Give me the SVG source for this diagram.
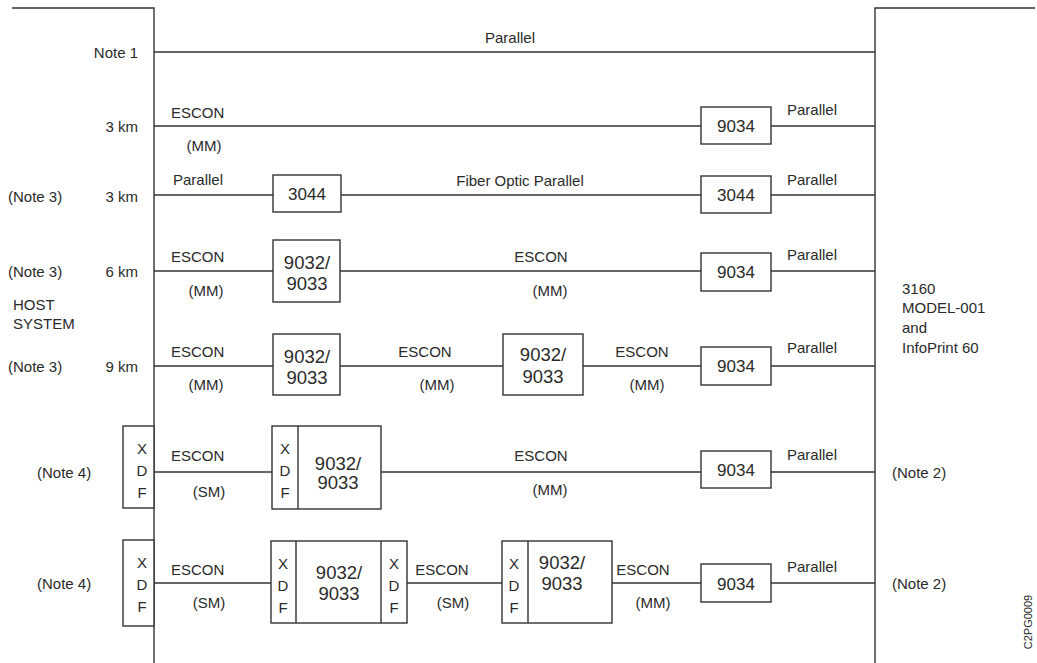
<svg xmlns="http://www.w3.org/2000/svg" width="1037" height="663" viewBox="0 0 1037 663">
<style>
text{font-family:"Liberation Sans",Arial,sans-serif;fill:#2a2a2a;font-size:15px}
.l{text-anchor:start}.m{text-anchor:middle}.e{text-anchor:end}
.b{font-size:18.5px}.s{font-size:17px}
line,rect,polyline{stroke:#333;stroke-width:1.4;fill:none}
rect{fill:#fff}
</style>
<rect width="1037" height="663" style="fill:#fff;stroke:none"/>
<g id="host">
<polyline points="12,8 154,8 154,663"/>
<text class="e" x="138" y="58">Note 1</text>
<text class="e" x="138" y="132">3 km</text>
<text class="l" x="8" y="202">(Note 3)</text>
<text class="e" x="138" y="202">3 km</text>
<text class="l" x="8" y="277">(Note 3)</text>
<text class="e" x="138" y="277">6 km</text>
<text class="l" x="13" y="310">HOST</text>
<text class="l" x="13" y="329">SYSTEM</text>
<text class="l" x="8" y="372">(Note 3)</text>
<text class="e" x="138" y="372">9 km</text>
<text class="l" x="37" y="478">(Note 4)</text>
<text class="l" x="37" y="589">(Note 4)</text>
</g>
<g id="printer">
<polyline points="1035,8 875,8 875,663"/>
<text class="l" x="902" y="294">3160</text>
<text class="l" x="902" y="313">MODEL-001</text>
<text class="l" x="902" y="333">and</text>
<text class="l" x="902" y="353">InfoPrint 60</text>
<text class="l" x="892" y="478">(Note 2)</text>
<text class="l" x="892" y="589">(Note 2)</text>
</g>
<g id="connectors">
<line x1="154" y1="52" x2="875" y2="52"/>
<line x1="154" y1="126" x2="701" y2="126"/><line x1="771" y1="126" x2="875" y2="126"/>
<line x1="154" y1="195" x2="273" y2="195"/><line x1="341" y1="195" x2="701" y2="195"/><line x1="771" y1="195" x2="875" y2="195"/>
<line x1="154" y1="271" x2="273" y2="271"/><line x1="340" y1="271" x2="701" y2="271"/><line x1="771" y1="271" x2="875" y2="271"/>
<line x1="154" y1="366" x2="273" y2="366"/><line x1="340" y1="366" x2="503" y2="366"/><line x1="583" y1="366" x2="701" y2="366"/><line x1="771" y1="366" x2="875" y2="366"/>
<line x1="154" y1="472" x2="272" y2="472"/><line x1="381" y1="472" x2="701" y2="472"/><line x1="771" y1="472" x2="875" y2="472"/>
<line x1="154" y1="583" x2="271" y2="583"/><line x1="407" y1="583" x2="502" y2="583"/><line x1="612" y1="583" x2="701" y2="583"/><line x1="771" y1="583" x2="875" y2="583"/>
</g>
<g id="labels">
<text class="m" x="510" y="43">Parallel</text>
<text class="l" x="171" y="118">ESCON</text>
<text class="m" x="204" y="151">(MM)</text>
<text class="l" x="787" y="115">Parallel</text>
<text class="l" x="173" y="185">Parallel</text>
<text class="m" x="520" y="186">Fiber Optic Parallel</text>
<text class="l" x="787" y="185">Parallel</text>
<text class="l" x="171" y="262">ESCON</text>
<text class="m" x="206" y="296">(MM)</text>
<text class="m" x="541" y="262">ESCON</text>
<text class="m" x="550" y="296">(MM)</text>
<text class="l" x="787" y="260">Parallel</text>
<text class="l" x="171" y="357">ESCON</text>
<text class="m" x="206" y="390">(MM)</text>
<text class="m" x="425" y="357">ESCON</text>
<text class="m" x="437" y="390">(MM)</text>
<text class="m" x="642" y="357">ESCON</text>
<text class="m" x="647" y="390">(MM)</text>
<text class="l" x="787" y="353">Parallel</text>
<text class="l" x="171" y="461">ESCON</text>
<text class="m" x="209" y="497">(SM)</text>
<text class="m" x="541" y="461">ESCON</text>
<text class="m" x="550" y="495">(MM)</text>
<text class="l" x="787" y="460">Parallel</text>
<text class="l" x="171" y="575">ESCON</text>
<text class="m" x="209" y="608">(SM)</text>
<text class="m" x="442" y="575">ESCON</text>
<text class="m" x="453" y="608">(SM)</text>
<text class="m" x="643" y="575">ESCON</text>
<text class="m" x="653" y="608">(MM)</text>
<text class="l" x="787" y="572">Parallel</text>
<text transform="translate(1032,622) rotate(-90)" class="m" style="font-size:11px">C2PG0009</text>
</g>
<g id="n9034-r2"><rect x="701" y="107" width="70" height="37"/><text class="m s" x="736" y="132">9034</text></g>
<g id="n3044-l"><rect x="273" y="175" width="68" height="37"/><text class="m s" x="307" y="200">3044</text></g>
<g id="n3044-r"><rect x="701" y="176" width="70" height="37"/><text class="m s" x="736" y="201">3044</text></g>
<g id="n9032-r4"><rect x="273" y="240" width="67" height="62"/><text class="m b" x="307" y="269">9032/</text><text class="m b" x="307" y="290">9033</text></g>
<g id="n9034-r4"><rect x="701" y="253" width="70" height="38"/><text class="m s" x="736" y="278">9034</text></g>
<g id="n9032a-r5"><rect x="273" y="334" width="67" height="61"/><text class="m b" x="307" y="363">9032/</text><text class="m b" x="307" y="384">9033</text></g>
<g id="n9032b-r5"><rect x="503" y="334" width="80" height="61"/><text class="m b" x="543" y="361">9032/</text><text class="m b" x="543" y="383">9033</text></g>
<g id="n9034-r5"><rect x="701" y="347" width="70" height="38"/><text class="m s" x="736" y="372">9034</text></g>
<g id="xdf-host-r6"><rect x="123" y="426" width="31" height="82"/><text class="m" x="142" y="454">X</text><text class="m" x="142" y="476">D</text><text class="m" x="142" y="498">F</text></g>
<g id="n9032-r6"><rect x="272" y="426" width="109" height="83"/><line x1="298" y1="426" x2="298" y2="509"/><text class="m" x="285" y="454">X</text><text class="m" x="285" y="476">D</text><text class="m" x="285" y="498">F</text><text class="m b" x="338" y="470">9032/</text><text class="m b" x="338" y="489">9033</text></g>
<g id="n9034-r6"><rect x="701" y="451" width="70" height="37"/><text class="m s" x="736" y="476">9034</text></g>
<g id="xdf-host-r7"><rect x="123" y="540" width="31" height="86"/><text class="m" x="142" y="568">X</text><text class="m" x="142" y="590">D</text><text class="m" x="142" y="612">F</text></g>
<g id="n9032a-r7"><rect x="271" y="541" width="136" height="82"/><line x1="296" y1="541" x2="296" y2="623"/><line x1="381" y1="541" x2="381" y2="623"/><text class="m" x="283" y="569">X</text><text class="m" x="283" y="591">D</text><text class="m" x="283" y="613">F</text><text class="m b" x="339" y="579">9032/</text><text class="m b" x="339" y="600">9033</text><text class="m" x="394" y="569">X</text><text class="m" x="394" y="591">D</text><text class="m" x="394" y="613">F</text></g>
<g id="n9032b-r7"><rect x="502" y="541" width="110" height="82"/><line x1="528" y1="541" x2="528" y2="623"/><text class="m" x="514" y="569">X</text><text class="m" x="514" y="591">D</text><text class="m" x="514" y="613">F</text><text class="m b" x="562" y="569">9032/</text><text class="m b" x="562" y="590">9033</text></g>
<g id="n9034-r7"><rect x="701" y="564" width="70" height="38"/><text class="m s" x="736" y="590">9034</text></g>
</svg>
